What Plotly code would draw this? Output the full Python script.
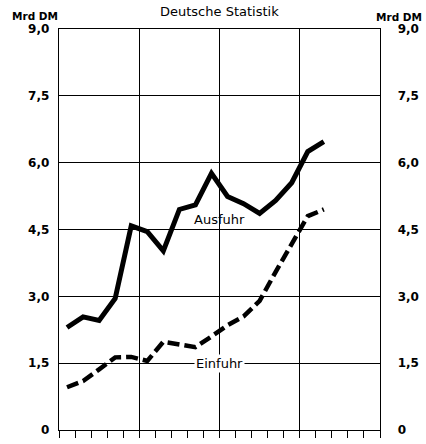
import plotly.graph_objects as go

# Zeitpunkte (Mitte jedes Jahresintervalls auf einer 20er-Skala)
zeit = [0.5, 1.5, 2.5, 3.5, 4.5, 5.5, 6.5, 7.5, 8.5, 9.5, 10.5, 11.5, 12.5, 13.5, 14.5, 15.5, 16.5]
ausfuhr = [2.30, 2.54, 2.46, 2.95, 4.58, 4.45, 4.02, 4.95, 5.05, 5.76, 5.24, 5.08, 4.86, 5.15, 5.55, 6.25, 6.47]
einfuhr = [0.96, 1.10, 1.36, 1.63, 1.64, 1.55, 1.98, 1.91, 1.86, 2.10, 2.35, 2.55, 2.90, 3.55, 4.20, 4.80, 4.95]

y_ticks = [0, 1.5, 3.0, 4.5, 6.0, 7.5, 9.0]
y_labels = ["0", "1,5", "3,0", "4,5", "6,0", "7,5", "9,0"]

FONT = "DejaVu Sans, Liberation Sans, sans-serif"

fig = go.Figure()
fig.add_trace(go.Scatter(x=zeit, y=ausfuhr, mode="lines", name="Ausfuhr",
                         line=dict(color="black", width=5), yaxis="y"))
fig.add_trace(go.Scatter(x=zeit, y=einfuhr, mode="lines", name="Einfuhr",
                         line=dict(color="black", width=4.5, dash="12px,5px"), yaxis="y2"))

axis_common = dict(range=[0, 9], tickvals=y_ticks, ticktext=y_labels,
                   showgrid=True, gridcolor="black", gridwidth=1,
                   showline=True, linecolor="black", linewidth=1.3,
                   zeroline=False, ticks="",
                   tickfont=dict(family=FONT, size=12, color="black", weight="bold"))

fig.update_layout(
    width=426, height=444,
    margin=dict(l=59, r=45, t=29, b=7),
    paper_bgcolor="white", plot_bgcolor="white",
    showlegend=False,
    hovermode=False,
    xaxis=dict(range=[0, 20], dtick=5, tick0=0, showticklabels=False,
               showgrid=True, gridcolor="black", gridwidth=1.3,
               showline=True, linecolor="black", linewidth=1.3, mirror=True,
               zeroline=False, ticks="outside", ticklen=7, tickcolor="black", tickwidth=1,
               minor=dict(dtick=1, tick0=0, ticks="outside", ticklen=7,
                          tickcolor="black", tickwidth=1, showgrid=False)),
    yaxis=dict(side="left", ticklabelstandoff=6, **axis_common),
    yaxis2=dict(side="right", overlaying="y", anchor="x", ticklabelstandoff=14, **axis_common),
    annotations=[
        dict(text="Deutsche Statistik", xref="paper", yref="paper", x=0.5, y=1,
             xshift=0, yshift=18, showarrow=False, xanchor="center", yanchor="middle",
             font=dict(family=FONT, size=13, color="black")),
        dict(text="Mrd DM", xref="paper", x=0, xshift=-24, yref="paper", y=1, yshift=13,
             showarrow=False, xanchor="center", yanchor="middle",
             font=dict(family=FONT, size=10.5, color="black", weight="bold")),
        dict(text="Mrd DM", xref="paper", x=1, xshift=19, yref="paper", y=1, yshift=12,
             showarrow=False, xanchor="center", yanchor="middle",
             font=dict(family=FONT, size=10.5, color="black", weight="bold")),
        dict(text="Ausfuhr", x=10, y=4.73, xref="x", yref="y", showarrow=False,
             font=dict(family=FONT, size=13, color="black")),
        dict(text="Einfuhr", x=10, y=1.5, xref="x", yref="y", showarrow=False,
             bgcolor="white", borderpad=1,
             font=dict(family=FONT, size=13, color="black")),
    ],
)

fig.write_html("out.html", config={"displayModeBar": False, "staticPlot": True},
               post_script="document.body.style.margin='0';")
